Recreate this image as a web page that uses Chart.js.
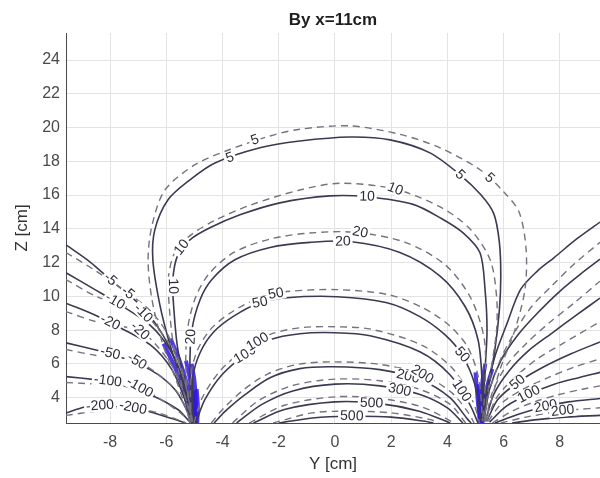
<!DOCTYPE html>
<html><head><meta charset="utf-8">
<script src="https://cdn.jsdelivr.net/npm/chart.js@4.4.1/dist/chart.umd.min.js"></script>
<style>html,body{margin:0;padding:0;background:#fff}</style>
</head><body><canvas id="c" width="600" height="478"></canvas>
<script>
// ---- tick labels ----
const xTicks = [-8,-6,-4,-2,0,2,4,6,8];
const yTicks = [4,6,8,10,12,14,16,18,20,22,24];

// ---- contour paths [Y, Z] in cm ----
// inner family (between the two conductors)
const in5    = [[-5.05,2.6],[-5.41,4.77],[-5.87,7.14],[-6.23,9.5],[-6.48,12.17],[-6.41,13.94],[-5.94,15.72],[-5.16,16.9],[-4.27,17.9],[-2.67,18.8],[-1.25,19.2],[0.53,19.44],[1.96,19.27],[3.38,18.5],[4.45,17.2],[5.2,16.0],[5.65,14.9],[5.85,13.2],[5.9,11.2],[5.85,9.2],[5.69,6.84],[5.44,4.47],[5.23,2.6]];
const in5d   = [[-5.16,2.6],[-5.59,4.77],[-6.12,7.14],[-6.51,9.8],[-6.65,12.17],[-6.51,14.2],[-6.05,16.3],[-4.98,17.8],[-3.74,18.7],[-2.31,19.5],[-1.25,19.9],[0.53,20.1],[2.31,19.6],[3.74,18.8],[5.16,17.5],[6.0,16.2],[6.55,15.0],[6.8,12.8],[6.76,10.4],[6.4,8.0],[5.87,5.66],[5.37,2.6]];
const in10   = [[-4.98,2.6],[-5.3,4.77],[-5.59,6.84],[-5.73,9.2],[-5.77,10.98],[-5.59,12.46],[-5.16,13.35],[-4.45,14.06],[-3.38,14.83],[-1.96,15.54],[-0.18,15.95],[1.14,15.9],[2.78,15.45],[3.8,14.6],[4.56,13.76],[5.16,12.58],[5.34,10.4],[5.41,8.0],[5.34,5.66],[5.23,2.6]];
const in10d  = [[-5.09,2.6],[-5.45,4.77],[-5.75,7.14],[-5.9,9.5],[-5.92,11.2],[-5.7,12.6],[-5.16,13.6],[-4.27,14.5],[-3.02,15.4],[-1.25,16.3],[0.18,16.7],[2.14,16.35],[3.74,15.3],[4.8,14.0],[5.52,12.17],[5.75,10.0],[5.75,8.0],[5.55,5.66],[5.3,2.6]];
const in20   = [[-5.05,2.6],[-5.16,5.66],[-5.09,8.0],[-4.8,9.8],[-4.38,11.0],[-3.56,12.17],[-2.31,12.9],[-0.89,13.2],[0.53,13.25],[2.31,12.6],[3.74,11.2],[4.63,9.4],[5.09,7.43],[5.23,5.07],[5.23,2.6]];
const in20d  = [[-5.1,2.6],[-5.3,5.5],[-5.25,8.0],[-4.97,9.9],[-4.5,11.3],[-3.6,12.6],[-2.3,13.4],[-0.9,13.75],[0.7,13.8],[2.5,13.2],[3.9,11.9],[4.8,10.0],[5.3,7.6],[5.35,5.0],[5.25,2.6]];
const in50   = [[-5.05,2.6],[-5.05,5.24],[-4.8,6.66],[-4.34,7.85],[-3.63,8.8],[-2.67,9.62],[-1.71,9.92],[0.07,9.98],[1.85,9.62],[3.02,8.8],[3.91,7.73],[4.52,6.54],[4.98,4.77],[5.2,2.6]];
const in50d  = [[-5.12,2.6],[-5.12,5.4],[-4.87,6.9],[-4.37,8.15],[-3.6,9.15],[-2.6,9.98],[-1.6,10.3],[0.1,10.4],[1.9,10.1],[3.1,9.35],[4.05,8.3],[4.72,7.0],[5.12,5.1],[5.25,2.6]];
const in100  = [[-4.95,2.5],[-4.63,3.88],[-4.02,5.36],[-3.2,6.54],[-2.31,7.43],[-1.25,7.79],[0,7.85],[1.25,7.67],[3.02,6.72],[4.09,5.36],[4.8,3.59],[5.09,2.5]];
const in100d = [[-5.02,2.5],[-4.72,4.0],[-4.07,5.62],[-3.2,6.88],[-2.3,7.75],[-1.2,8.15],[0,8.2],[1.3,8.05],[3.1,7.1],[4.2,5.7],[4.9,3.8],[5.15,2.5]];
const in200  = [[-4.3,2.5],[-3.9,3.2],[-3.2,4.18],[-2.31,5.18],[-1.25,5.72],[-0.07,5.83],[1.6,5.66],[3.02,5.07],[4.09,4.0],[4.73,2.7],[4.85,2.5]];
const in200d = [[-4.4,2.5],[-4.0,3.3],[-3.3,4.4],[-2.4,5.4],[-1.3,5.98],[0,6.12],[1.6,5.97],[3.1,5.38],[4.15,4.3],[4.75,3.1],[4.95,2.5]];
const in300  = [[-3.5,2.5],[-2.6,3.6],[-1.5,4.4],[0,4.8],[1.6,4.7],[3.0,4.2],[4.0,3.4],[4.55,2.5]];
const in300d = [[-3.65,2.5],[-2.7,3.85],[-1.5,4.72],[0,5.1],[1.6,5.0],[3.0,4.5],[4.1,3.6],[4.65,2.5]];
const in500  = [[-2.9,2.5],[-1.8,3.3],[0,3.75],[1.6,3.65],[3.0,3.2],[4.1,2.5]];
const in500d = [[-3.05,2.5],[-1.8,3.55],[0,4.05],[1.6,3.95],[3.1,3.45],[4.25,2.5]];
const in1000 = [[-2.0,2.5],[-0.8,2.8],[0.5,2.9],[2.0,2.85],[3.2,2.6],[3.5,2.5]];
const in1000d= [[-2.2,2.5],[-0.8,3.1],[0.5,3.2],[2.0,3.1],[3.4,2.7],[3.7,2.5]];

// left outer family (negative levels)
const neg5    = [[-9.57,13.05],[-8.72,12.05],[-8.0,11.0],[-6.94,9.5],[-6.23,8.0],[-5.69,6.25],[-5.34,4.47],[-5.09,2.6]];
const neg5d   = [[-9.57,12.6],[-8.5,11.5],[-7.37,10.2],[-6.6,9.2],[-6.0,7.9],[-5.55,6.2],[-5.25,4.4],[-5.07,2.6]];
const neg10   = [[-9.57,11.4],[-8.54,10.4],[-7.83,9.7],[-6.58,8.3],[-5.87,6.84],[-5.41,5.07],[-5.09,2.6]];
const neg10d  = [[-9.57,11.0],[-8.5,10.0],[-6.83,9.0],[-6.3,8.1],[-5.75,6.8],[-5.35,5.0],[-5.07,2.6]];
const neg20   = [[-9.57,9.6],[-8.54,8.9],[-8.0,8.45],[-6.58,7.14],[-5.8,5.66],[-5.34,3.88],[-5.09,2.6]];
const neg20d  = [[-9.57,9.1],[-8.5,8.5],[-6.94,7.95],[-6.3,7.0],[-5.7,5.6],[-5.3,3.9],[-5.07,2.6]];
const neg50   = [[-9.57,7.25],[-8.54,6.84],[-8.0,6.62],[-6.58,5.66],[-5.69,4.47],[-5.16,2.9],[-5.05,2.5]];
const neg50d  = [[-9.57,6.85],[-8.5,6.5],[-7.05,6.15],[-6.3,5.4],[-5.6,4.3],[-5.12,2.6]];
const neg100  = [[-9.57,5.25],[-8.54,5.07],[-8.08,4.98],[-6.58,4.18],[-5.59,3.3],[-5.16,2.55]];
const neg100d = [[-9.57,4.9],[-8.5,4.8],[-6.95,4.6],[-6.2,3.9],[-5.5,3.1],[-5.12,2.5]];
const neg200  = [[-9.57,3.1],[-8.9,3.45],[-8.36,3.52],[-6.94,3.3],[-5.87,2.8],[-5.3,2.5]];
const neg200d = [[-9.57,2.95],[-8.5,3.2],[-7.19,3.4],[-6.3,3.1],[-5.6,2.7],[-5.3,2.5]];

// right outer family
const r5    = [[5.25,2.6],[5.4,4.5],[5.7,6.5],[6.1,8.3],[6.6,10.4],[7.2,11.5],[7.8,12.3],[8.6,13.4],[9.43,14.4]];
const r5d   = [[5.3,2.6],[5.5,4.4],[5.9,6.3],[6.4,7.9],[7.0,9.4],[7.7,10.6],[8.5,11.9],[9.43,13.2]];
const r10   = [[5.3,2.6],[5.5,4.5],[5.9,6.2],[6.5,7.7],[7.2,9.0],[8.0,10.3],[8.8,11.4],[9.43,12.2]];
const r10d  = [[5.35,2.6],[5.6,4.3],[6.1,5.9],[6.8,7.2],[7.6,8.4],[8.5,9.6],[9.43,10.9]];
const r20   = [[5.35,2.6],[5.65,4.2],[6.2,5.6],[6.9,6.8],[7.7,7.8],[8.6,8.9],[9.43,9.9]];
const r20d  = [[5.4,2.6],[5.75,4.0],[6.4,5.2],[7.2,6.3],[8.1,7.2],[9.43,8.5]];
const r50   = [[5.4,2.6],[5.8,3.9],[6.5,4.9],[7.4,5.8],[8.4,6.6],[9.43,7.3]];
const r50d  = [[5.45,2.6],[5.95,3.7],[6.7,4.5],[7.6,5.2],[8.5,5.8],[9.43,6.3]];
const r100  = [[5.5,2.55],[6.1,3.5],[6.9,4.2],[7.8,4.8],[8.7,5.2],[9.43,5.5]];
const r100d = [[5.6,2.5],[6.3,3.2],[7.1,3.75],[8.0,4.2],[8.8,4.5],[9.43,4.7]];
const r200  = [[5.7,2.5],[6.5,3.0],[7.4,3.45],[8.3,3.75],[9.43,3.95]];
const r200d = [[5.9,2.5],[6.8,2.85],[7.8,3.15],[8.6,3.3],[9.43,3.4]];
const r500  = [[6.3,2.5],[7.2,2.7],[8.2,2.85],[9.43,2.95]];

// dense high-level contours at the conductors
const blueL1 = [[-5.0,2.5],[-5.05,3.8],[-5.15,5.0],[-5.3,6.2]];
const blueL2 = [[-4.95,2.5],[-4.95,3.8],[-5.0,5.0],[-5.1,6.0]];
const blueL3 = [[-4.9,2.5],[-4.88,3.5],[-4.92,4.5]];
const blueL4 = [[-5.05,2.5],[-5.15,3.8],[-5.3,5.0],[-5.55,6.3],[-5.85,7.5]];
const blueL5 = [[-5.1,2.5],[-5.25,3.6],[-5.45,4.8],[-5.75,6.0],[-6.1,7.2]];
const blueL6 = [[-4.98,2.5],[-5.0,3.5],[-5.05,4.4]];
const blueR1 = [[5.2,2.5],[5.2,3.8],[5.25,5.0],[5.35,6.0]];
const blueR2 = [[5.15,2.5],[5.12,3.8],[5.12,4.8]];
const blueR3 = [[5.25,2.5],[5.3,3.6],[5.42,4.7],[5.6,5.7]];
const blueR4 = [[5.18,2.5],[5.1,3.5],[5.05,4.5],[5.0,5.5]];
const blueR5 = [[5.22,2.5],[5.24,3.4],[5.28,4.2]];

const solidLines = [in5,in10,in20,in50,in100,in200,in300,in500,in1000,neg5,neg10,neg20,neg50,neg100,neg200,r5,r10,r20,r50,r100,r200,r500];
const dashedLines = [in5d,in10d,in20d,in50d,in100d,in200d,in300d,in500d,in1000d,neg5d,neg10d,neg20d,neg50d,neg100d,neg200d,r5d,r10d,r20d,r50d,r100d,r200d];
const blueLines = [blueL1,blueL2,blueL3,blueL4,blueL5,blueL6,blueR1,blueR2,blueR3,blueR4,blueR5];

// contour labels: text, contour, position [Y,Z]
const contourLabels = [
  ['5', in5, [-3.74,18.2]], ['5', in5d, [-2.85,19.25]], ['5', in5, [4.45,17.2]], ['5', in5d, [5.5,17.0]],
  ['10', in10, [1.14,15.9]], ['10', in10d, [2.14,16.35]], ['10', in10, [-5.45,12.9]], ['10', in10, [-5.77,10.6]],
  ['20', in20, [0.28,13.24]], ['20', in20d, [0.9,13.78]], ['20', in20, [-5.12,7.6]],
  ['50', in50, [-2.67,9.62]], ['50', in50d, [-2.1,10.15]], ['50', in50, [4.52,6.54]],
  ['100', in100, [-3.2,6.54]], ['100', in100d, [-2.75,7.3]], ['100', in100, [4.5,4.4]],
  ['200', in200, [2.6,5.25]], ['200', in200d, [3.1,5.38]], ['300', in300, [2.3,4.45]],
  ['500', in500, [1.3,3.67]], ['500', in1000, [0.6,2.9]],
  ['-5', neg5, [-8.0,11.0]], ['-5', neg5d, [-7.37,10.2]],
  ['-10', neg10, [-7.83,9.7]], ['-10', neg10d, [-6.83,9.0]],
  ['-20', neg20, [-8.0,8.45]], ['-20', neg20d, [-6.94,7.95]],
  ['-50', neg50, [-8.0,6.62]], ['-50', neg50d, [-7.05,6.15]],
  ['-100', neg100, [-8.08,4.98]], ['-100', neg100d, [-6.95,4.6]],
  ['-200', neg200, [-8.36,3.52]], ['-200', neg200d, [-7.19,3.4]],
  ['50', r50, [6.5,4.9]], ['100', r100, [6.9,4.2]], ['200', r200, [7.5,3.48]], ['200', r200d, [8.1,3.22]]
];

const toPts = a => a.map(p => ({x:p[0], y:p[1]}));
const datasets = [];
dashedLines.forEach(a => datasets.push({data:toPts(a), showLine:true, pointRadius:0, borderColor:'#77717f', borderWidth:1.4, borderDash:[7,5], tension:0.3}));
solidLines.forEach(a => datasets.push({data:toPts(a), showLine:true, pointRadius:0, borderColor:'#3a3a52', borderWidth:1.6, tension:0.3}));
blueLines.forEach(a => datasets.push({data:toPts(a), showLine:true, pointRadius:0, borderColor:'rgba(48,22,225,0.85)', borderWidth:4, tension:0.3}));

const labelPlugin = {
  id:'contourLabels',
  afterDatasetsDraw(chart){
    const ctx = chart.ctx, xs = chart.scales.x, ys = chart.scales.y;
    const ca = chart.chartArea;
    ctx.save();
    ctx.beginPath(); ctx.rect(ca.left, ca.top, ca.right-ca.left, ca.bottom-ca.top); ctx.clip();
    ctx.font = '14px "Liberation Sans", Arial, sans-serif';
    ctx.textAlign = 'center'; ctx.textBaseline = 'middle';
    contourLabels.forEach(([t, line, pos]) => {
      const px = xs.getPixelForValue(pos[0]), py = ys.getPixelForValue(pos[1]);
      let best = 1e9, ang = 0;
      for (let i = 0; i < line.length-1; i++) {
        const ax = xs.getPixelForValue(line[i][0]), ay = ys.getPixelForValue(line[i][1]);
        const bx = xs.getPixelForValue(line[i+1][0]), by = ys.getPixelForValue(line[i+1][1]);
        const mx = (ax+bx)/2, my = (ay+by)/2;
        const d = (mx-px)*(mx-px)+(my-py)*(my-py);
        if (d < best) { best = d; ang = Math.atan2(by-ay, bx-ax); }
      }
      if (ang > Math.PI/2) ang -= Math.PI;
      if (ang < -Math.PI/2) ang += Math.PI;
      const w = ctx.measureText(t).width;
      ctx.save();
      ctx.translate(px, py); ctx.rotate(ang);
      ctx.fillStyle = '#ffffff';
      ctx.fillRect(-w/2-2, -6, w+4, 12);
      ctx.fillStyle = '#2e2e3a';
      ctx.fillText(t, 0, 0);
      ctx.restore();
    });
    ctx.restore();
  }
};

const tickFont = {size:16, family:'"Liberation Sans", Arial, sans-serif'};
new Chart(document.getElementById('c'), {
  type:'scatter',
  data:{datasets},
  plugins:[labelPlugin],
  options:{
    responsive:false, animation:false, devicePixelRatio:1,
    layout:{padding:0},
    plugins:{
      legend:{display:false}, tooltip:{enabled:false},
      title:{display:true, text:'By x=11cm', fullSize:false, color:'#1e1e1e',
        font:{size:17, weight:'bold', family:'"Liberation Sans", Arial, sans-serif'}, padding:{top:10, bottom:2.6}}
    },
    scales:{
      x:{type:'linear', min:-9.57, max:9.43,
        afterBuildTicks: s => { s.ticks = xTicks.map(v => ({value:v})); },
        afterFit: s => { s.height = 55; },
        grid:{color:'#e3e3e3', drawTicks:false},
        border:{display:true, color:'#4a4a4a', width:1},
        ticks:{color:'#4a4a4a', font:tickFont, padding:10, maxRotation:0, autoSkip:false},
        title:{display:true, text:'Y [cm]', color:'#333', font:{size:17, family:'"Liberation Sans", Arial, sans-serif'}, padding:{top:0, bottom:3}}
      },
      y:{type:'linear', min:2.5, max:25.6,
        afterBuildTicks: s => { s.ticks = yTicks.map(v => ({value:v})); },
        afterFit: s => { s.width = 66; },
        grid:{color:'#e3e3e3', drawTicks:false},
        border:{display:true, color:'#4a4a4a', width:1},
        ticks:{color:'#4a4a4a', font:tickFont, padding:6, autoSkip:false},
        title:{display:true, text:'Z [cm]', color:'#333', font:{size:17, family:'"Liberation Sans", Arial, sans-serif'}, padding:{top:12, bottom:0}}
      }
    }
  }
});
</script></body></html>
